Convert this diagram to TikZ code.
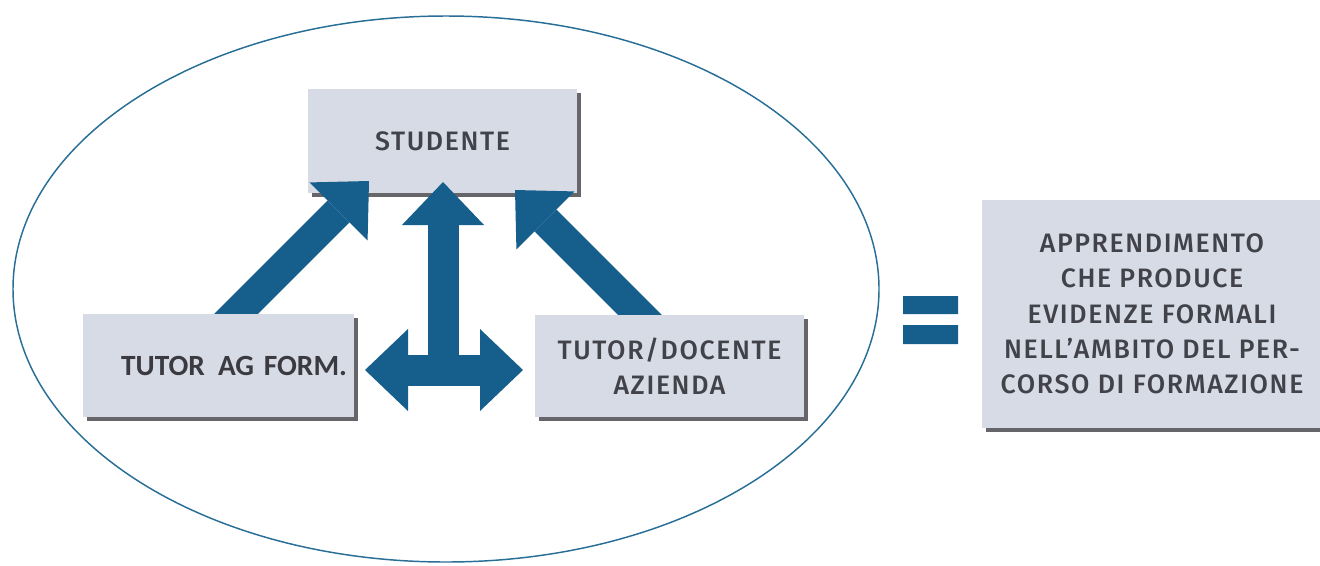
\documentclass[tikz,border=0pt]{standalone}
\usepackage{fontspec}
\usetikzlibrary{arrows.meta,shadows}
\IfFontExistsTF{Fira Sans Medium}
  {\newfontfamily\dinfont{Fira Sans Medium}[LetterSpace=6]}
  {\newfontfamily\dinbase{Fira Sans}[LetterSpace=6]\newcommand\dinfont{\dinbase\bfseries}}
\newfontfamily\calfont{Carlito}

\tikzset{every picture/.style={line width=0.75pt},
  bluetip/.tip={Triangle[length=32.25pt,width=61.5pt,line width=0pt]},
  ring/.style={draw={rgb, 255:red, 40; green, 110; blue, 150 }, line width=1.1pt},
  box/.style={fill={rgb, 255:red, 214; green, 219; blue, 229 }, inner sep=0pt, align=center,
    drop shadow={shadow xshift=3pt, shadow yshift=-3pt, fill={rgb, 255:red, 85; green, 85; blue, 90 }, opacity=0.9},
    text={rgb, 255:red, 66; green, 66; blue, 74 }, font=\dinfont\fontsize{20}{26.5}\selectfont},
  blockarrow/.style={draw={rgb, 255:red, 22; green, 94; blue, 140 }, line width=23.25pt},
  eqbar/.style={fill={rgb, 255:red, 22; green, 94; blue, 140 }},
}

\begin{document}
\begin{tikzpicture}[x=0.75pt,y=0.75pt,yscale=-1,xscale=1]
	\useasboundingbox (0,0) rectangle (1320,565);

	%Shape: Ellipse [id:ring]
	\draw [ring] (446,289) ellipse [x radius=433, y radius=273];

	% Text Node
	\node [box, minimum width=269*0.75pt, minimum height=104*0.75pt] (stud) at (442.5,141) {STUDENTE};

	% arrow ends
	\coordinate (tailL) at (210,340);
	\coordinate (tipL) at (369,181);
	\coordinate (tailR) at (665,340);
	\coordinate (tipR) at (515,190);
	\coordinate (hub) at (443,371);
	\coordinate (tipU) at (443,182);
	\coordinate (tipW) at (365,370);
	\coordinate (tipE) at (523,370);

	%Block Arrows
	\draw [blockarrow, -bluetip] (tailL) -- (tipL);
	\draw [blockarrow, -bluetip] (tailR) -- (tipR);
	\draw [blockarrow, -bluetip] (hub) -- (tipU);
	\draw [blockarrow, bluetip-bluetip] (tipW) -- (tipE);

	% Text Node
	\node [box, font=\calfont\bfseries\fontsize{22}{26}\selectfont, text={rgb, 255:red, 58; green, 58; blue, 64 },
	  minimum width=271*0.75pt, minimum height=103*0.75pt, text width=257*0.75pt, align=right] (tutag) at (218.5,365.5) {TUTOR\hspace{0.45em}AG FORM.};
	% Text Node
	\node [box, minimum width=269*0.75pt, minimum height=102*0.75pt] (tutdoc) at (669.5,366) {TUTOR/DOCENTE\\AZIENDA};

	%Shape: Equals [id:eq]
	\fill [eqbar] (903,296) rectangle (958,314) (903,325) rectangle (958,344);

	% Text Node
	\node [box, minimum width=340*0.75pt, minimum height=228*0.75pt] (esito) at (1152,314)
	  {APPRENDIMENTO\\CHE PRODUCE\\EVIDENZE FORMALI\\NELL’AMBITO DEL PER-\\CORSO DI FORMAZIONE};

\end{tikzpicture}
\end{document}
